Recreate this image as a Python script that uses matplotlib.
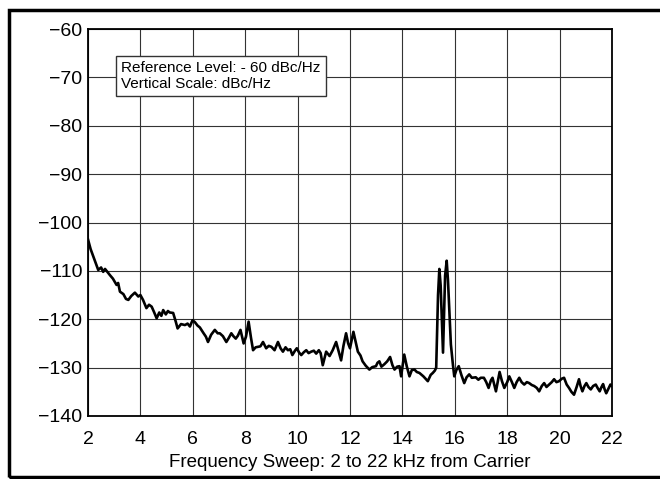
import matplotlib
matplotlib.use("Agg")
import matplotlib.pyplot as plt
from matplotlib.patches import Rectangle

# Trace (kHz from carrier, dBc/Hz)
freq_khz = [
    2.0, 2.1, 2.2, 2.3, 2.39, 2.5, 2.58, 2.65, 2.75, 2.84, 2.95, 3.09, 3.15,
    3.22, 3.35, 3.45, 3.54, 3.65, 3.79, 3.92, 4.0, 4.1, 4.23, 4.33, 4.43,
    4.52, 4.62, 4.72, 4.8, 4.87, 4.97, 5.05, 5.12, 5.25, 5.35, 5.42, 5.55,
    5.7, 5.8, 5.89, 5.99, 6.08, 6.18, 6.27, 6.4, 6.5, 6.58, 6.7, 6.84, 6.95,
    7.03, 7.15, 7.28, 7.38, 7.47, 7.55, 7.64, 7.72, 7.82, 7.94, 8.03, 8.13,
    8.22, 8.3, 8.4, 8.49, 8.58, 8.68, 8.8, 8.9, 9.0, 9.12, 9.25, 9.35, 9.44,
    9.54, 9.63, 9.72, 9.8, 9.9, 9.97, 10.06, 10.14, 10.24, 10.33, 10.42,
    10.52, 10.62, 10.71, 10.81, 10.88, 10.96, 11.09, 11.22, 11.34, 11.47,
    11.56, 11.66, 11.75, 11.85, 11.93, 12.0, 12.13, 12.22, 12.3, 12.4, 12.48,
    12.6, 12.74, 12.85, 12.99, 13.05, 13.12, 13.2, 13.31, 13.42, 13.53,
    13.62, 13.7, 13.8, 13.89, 13.95, 14.07, 14.17, 14.27, 14.36, 14.46,
    14.55, 14.65, 14.8, 14.97, 15.08, 15.16, 15.24, 15.29, 15.36, 15.41,
    15.46, 15.55, 15.63, 15.69, 15.74, 15.85, 15.93, 15.98, 16.06, 16.15,
    16.25, 16.36, 16.45, 16.55, 16.65, 16.8, 16.9, 16.99, 17.11, 17.2, 17.29,
    17.38, 17.44, 17.57, 17.71, 17.8, 17.89, 18.0, 18.08, 18.18, 18.27,
    18.36, 18.46, 18.55, 18.65, 18.75, 18.84, 18.94, 19.03, 19.13, 19.22,
    19.32, 19.41, 19.5, 19.6, 19.7, 19.79, 19.88, 19.98, 20.08, 20.17, 20.27,
    20.36, 20.45, 20.55, 20.65, 20.74, 20.8, 20.87, 20.95, 21.02, 21.1,
    21.19, 21.28, 21.38, 21.45, 21.53, 21.6, 21.66, 21.72, 21.78, 21.88,
    21.94, 22.0,
]
level_dbc = [
    -103.5, -105.5, -107.0, -108.5, -109.8, -109.3, -110.2, -109.6, -110.3,
    -110.9, -111.6, -112.9, -112.5, -114.3, -114.8, -115.8, -116.0, -115.2,
    -114.5, -115.3, -115.0, -116.0, -117.7, -117.0, -117.4, -118.5, -119.8,
    -118.6, -119.3, -118.1, -119.0, -118.3, -118.6, -118.7, -120.5, -121.9,
    -121.0, -121.2, -120.9, -121.5, -120.2, -120.6, -121.3, -121.7, -122.8,
    -123.6, -124.7, -123.2, -122.2, -122.9, -122.9, -123.5, -124.7, -123.8,
    -122.9, -123.5, -124.0, -123.4, -122.2, -125.0, -123.6, -120.5, -123.8,
    -126.4, -125.8, -125.7, -125.6, -124.7, -126.0, -125.5, -125.7, -126.4,
    -124.7, -126.0, -126.7, -125.8, -126.4, -126.2, -127.4, -126.5, -126.0,
    -126.9, -127.4, -126.8, -126.4, -127.0, -126.7, -126.5, -127.1, -126.4,
    -127.0, -129.5, -126.7, -127.6, -126.4, -124.7, -126.5, -128.5, -125.5,
    -122.9, -125.0, -126.0, -122.6, -124.8, -126.7, -127.5, -128.7, -129.6,
    -130.4, -129.9, -129.7, -129.0, -128.7, -129.8, -129.3, -128.7, -127.8,
    -129.5, -130.4, -129.8, -129.7, -131.8, -127.3, -129.8, -131.8, -130.5,
    -130.4, -130.9, -131.1, -131.8, -132.8, -131.5, -131.1, -130.6, -130.0,
    -115.0, -109.6, -113.0, -126.9, -111.0, -107.9, -112.0, -125.2, -129.5,
    -131.8, -130.5, -129.7, -131.5, -133.2, -132.0, -131.4, -132.1, -132.0,
    -132.5, -132.1, -132.1, -133.0, -134.2, -132.6, -132.1, -134.9, -130.9,
    -132.8, -134.2, -133.0, -131.8, -133.0, -134.2, -133.0, -132.1, -133.0,
    -133.5, -133.0, -133.2, -133.6, -133.8, -134.2, -134.9, -133.8, -133.2,
    -134.0, -133.5, -133.0, -132.4, -133.0, -132.8, -132.3, -132.1, -133.5,
    -134.2, -135.0, -135.6, -134.0, -132.4, -133.8, -134.9, -133.8, -133.2,
    -134.0, -134.5, -133.8, -133.5, -134.2, -134.9, -134.0, -133.4, -134.5,
    -135.3, -134.2, -133.5, -133.8,
]

x_ticks = [2, 4, 6, 8, 10, 12, 14, 16, 18, 20, 22]
y_ticks = [-140, -130, -120, -110, -100, -90, -80, -70, -60]

plt.rcParams['font.family'] = ['Liberation Sans', 'DejaVu Sans']

fig = plt.figure(figsize=(6.6, 4.79), dpi=100)
ax = fig.add_axes([88 / 660, 1 - 416 / 479, (612 - 88) / 660, (416 - 29) / 479])

# outer frame round the whole figure
frame = Rectangle((9 / 660, 1 - 477 / 479), 1.2, (477 - 10) / 479,
                  transform=fig.transFigure, fill=False, lw=2.5,
                  edgecolor='black', clip_on=False)
fig.patches.append(frame)

ax.plot(freq_khz, level_dbc, color='black', lw=1.9, solid_joinstyle='round')

ax.set_xlim(2, 22)
ax.set_ylim(-140, -60)
ax.set_xticks(x_ticks)
ax.set_yticks(y_ticks)
ax.grid(True, color='#333333', lw=0.8)
ax.tick_params(length=0, labelsize=14, colors='black')
ax.tick_params(axis='x', pad=11)
ax.tick_params(axis='y', pad=4)
for s in ax.spines.values():
    s.set_linewidth(1.3)
ax.set_xlabel("Frequency Sweep: 2 to 22 kHz from Carrier", fontsize=13.5,
              labelpad=4)

ax.text(0.0636, 0.9165, "Reference Level: - 60 dBc/Hz\nVertical Scale: dBc/Hz",
        transform=ax.transAxes, fontsize=11, va='top', ha='left',
        linespacing=1.15,
        bbox=dict(boxstyle='square,pad=0.35', fc='white', ec='#333333', lw=1))

fig.savefig('out.png', dpi=100)
